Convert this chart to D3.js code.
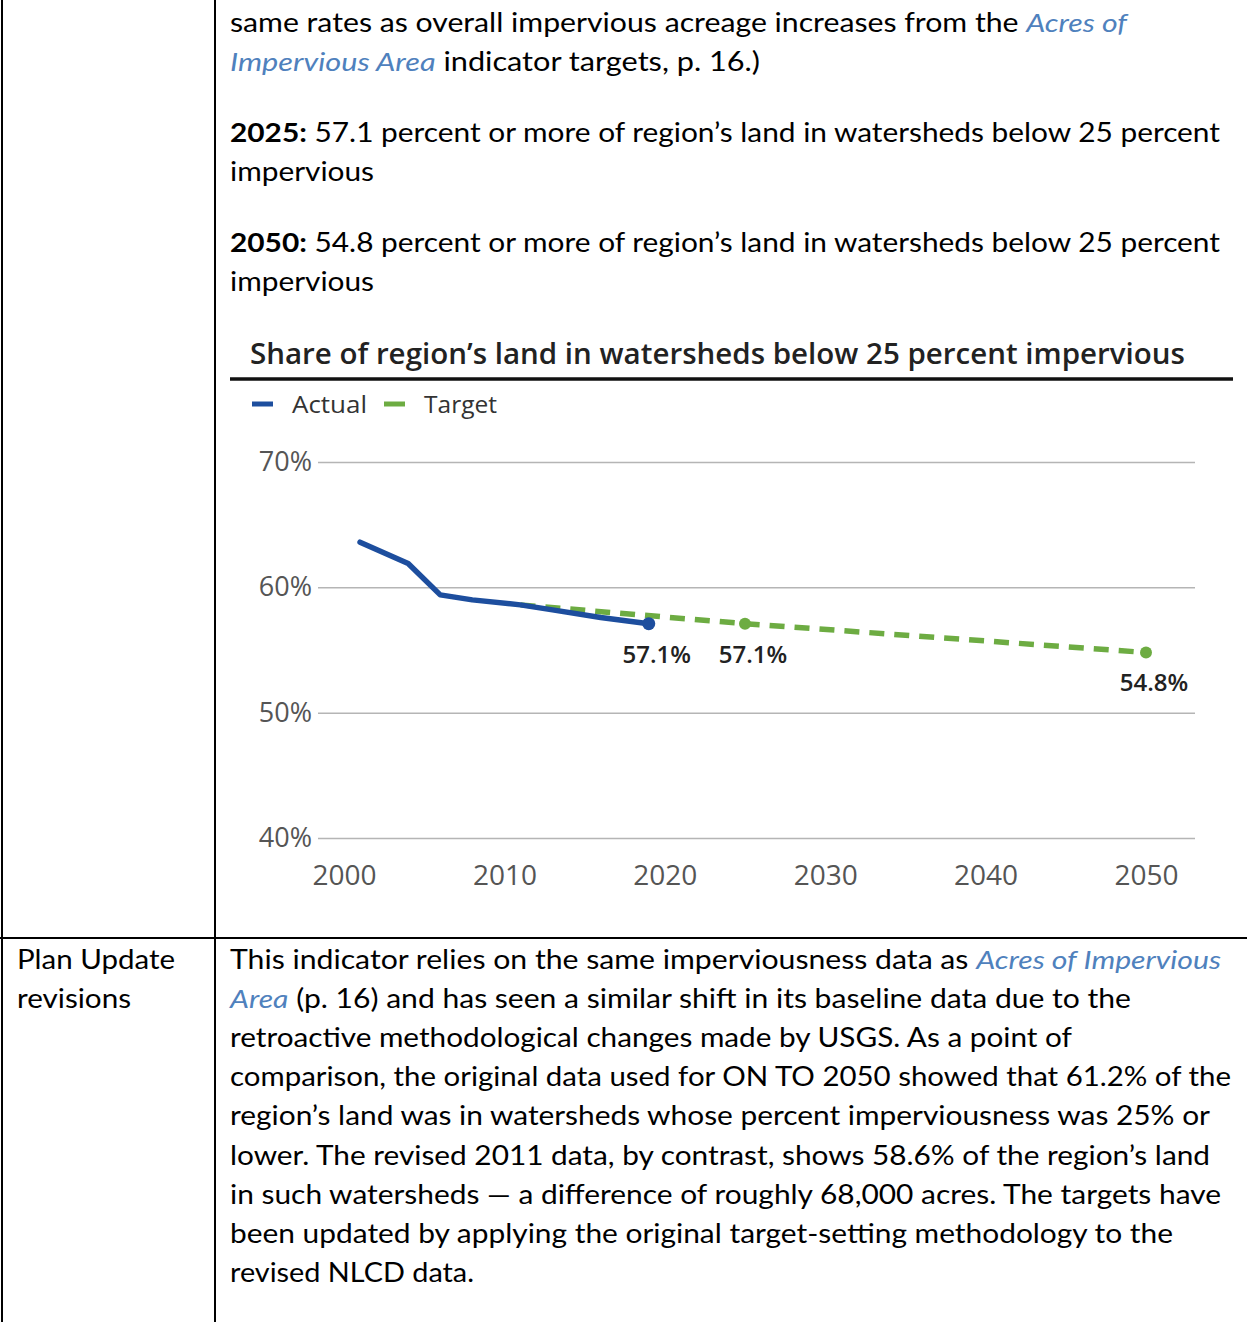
<!DOCTYPE html>
<html>
<head>
<meta charset="utf-8">
<script src="https://cdn.jsdelivr.net/npm/d3@7"></script>
<style>
  html, body { margin: 0; padding: 0; background: #fff; }
  svg { display: block; }
</style>
</head>
<body>
<svg id="page" width="1247" height="1322"></svg>
<script>
// ---------- DATA ----------
const actualYears  = [2001, 2004, 2006, 2008, 2011, 2013, 2016, 2019];
const actualValues = [63.6, 61.9, 59.4, 59.0, 58.6, 58.2, 57.6, 57.1];
const targetYears  = [2011, 2025, 2050];
const targetValues = [58.6, 57.1, 54.8];
const labelPoints  = [ // [year, value, label]
  [2019, 57.1, "57.1%"],
  [2025, 57.1, "57.1%"],
  [2050, 54.8, "54.8%"]
];
const yTicks = [40, 50, 60, 70];
const xTicks = [2000, 2010, 2020, 2030, 2040, 2050];
const seriesNames = ["Actual", "Target"];
const seriesColors = ["#1d4e9e", "#6dac42"];
const chartTitle = "Share of region\u2019s land in watersheds below 25 percent impervious";

// body text: segments [text, style] ; style n=normal, i=italic link, b=bold
const topLines = [
  {segs: [["same rates as overall impervious acreage increases from the ", "n"], ["Acres of", "i"]], w: 897, y: 31.5},
  {segs: [["Impervious Area", "i"], [" indicator targets, p. 16.)", "n"]], w: 530, y: 70.5},
  {segs: [["2025:", "b"], [" 57.1 percent or more of region\u2019s land in watersheds below 25 percent", "n"]], w: 990, y: 142},
  {segs: [["impervious", "n"]], w: 144, y: 181},
  {segs: [["2050:", "b"], [" 54.8 percent or more of region\u2019s land in watersheds below 25 percent", "n"]], w: 990, y: 252},
  {segs: [["impervious", "n"]], w: 144, y: 291}
];
const bottomLines = [
  {segs: [["This indicator relies on the same imperviousness data as ", "n"], ["Acres of Impervious", "i"]], w: 991},
  {segs: [["Area", "i"], [" (p. 16) and has seen a similar shift in its baseline data due to the", "n"]], w: 901},
  {segs: [["retroactive methodological changes made by USGS. As a point of", "n"]], w: 842},
  {segs: [["comparison, the original data used for ON TO 2050 showed that 61.2% of the", "n"]], w: 1001},
  {segs: [["region\u2019s land was in watersheds whose percent imperviousness was 25% or", "n"]], w: 980},
  {segs: [["lower. The revised 2011 data, by contrast, shows 58.6% of the region\u2019s land", "n"]], w: 980},
  {segs: [["in such watersheds \u2014 a difference of roughly 68,000 acres. The targets have", "n"]], w: 991},
  {segs: [["been updated by applying the original target-setting methodology to the", "n"]], w: 943},
  {segs: [["revised NLCD data.", "n"]], w: 244}
];
const leftLines = [
  {segs: [["Plan Update", "n"]], w: 158},
  {segs: [["revisions", "n"]], w: 114}
];

// ---------- PAGE ----------
const svg = d3.select("#page");
const BODY_FONT = "Lato, 'Open Sans', sans-serif";
const CHART_FONT = "'Open Sans', 'Noto Sans', sans-serif";

// table lines
svg.append("line").attr("x1", 2).attr("x2", 2).attr("y1", 0).attr("y2", 1322).attr("stroke", "#000").attr("stroke-width", 2);
svg.append("line").attr("x1", 215).attr("x2", 215).attr("y1", 0).attr("y2", 1322).attr("stroke", "#000").attr("stroke-width", 2);
svg.append("line").attr("x1", 0).attr("x2", 1247).attr("y1", 938).attr("y2", 938).attr("stroke", "#000").attr("stroke-width", 2);

function writeLine(x, y, line) {
  const t = svg.append("text")
    .attr("x", x).attr("y", y)
    .attr("font-family", BODY_FONT)
    .attr("font-size", 26)
    .attr("fill", "#000")
    .attr("textLength", line.w)
    .attr("lengthAdjust", "spacingAndGlyphs")
    .style("white-space", "pre");
  line.segs.forEach(([s, st]) => {
    const ts = t.append("tspan").text(s);
    if (st === "i") ts.attr("font-style", "italic").attr("fill", "#4f81bd");
    if (st === "b") ts.attr("font-weight", "bold");
  });
}
topLines.forEach(l => writeLine(230, l.y, l));
bottomLines.forEach((l, i) => writeLine(230, 969 + i * 39.1, l));
leftLines.forEach((l, i) => writeLine(17, 969 + i * 39.1, l));

// ---------- CHART ----------
const x = d3.scaleLinear().domain([2000, 2050]).range([344, 1146]);
const y = d3.scaleLinear().domain([40, 70]).range([838, 462]);

// title
svg.append("text")
  .attr("x", 250).attr("y", 364)
  .attr("font-family", CHART_FONT).attr("font-weight", 600).attr("font-size", 29)
  .attr("fill", "#222")
  .attr("textLength", 935).attr("lengthAdjust", "spacingAndGlyphs")
  .text(chartTitle);
svg.append("line").attr("x1", 230).attr("x2", 1233).attr("y1", 379).attr("y2", 379)
  .attr("stroke", "#111").attr("stroke-width", 3.5);

// legend
const legendX = [252, 384];
const legendTextX = [292, 424];
const legendW = [75, 73];
seriesNames.forEach((n, i) => {
  svg.append("line").attr("x1", legendX[i]).attr("x2", legendX[i] + 21)
    .attr("y1", 404).attr("y2", 404)
    .attr("stroke", seriesColors[i]).attr("stroke-width", 5);
  svg.append("text").attr("x", legendTextX[i]).attr("y", 413)
    .attr("font-family", CHART_FONT).attr("font-size", 24).attr("fill", "#333")
    .attr("textLength", legendW[i]).attr("lengthAdjust", "spacingAndGlyphs")
    .text(n);
});

// y axis + grid
const yAxis = svg.append("g").attr("transform", "translate(318,0)")
  .call(d3.axisLeft(y).tickValues(yTicks).tickFormat(d => d + "%").tickSize(-(1195 - 318)).tickPadding(6));
yAxis.select(".domain").remove();
yAxis.selectAll(".tick line").attr("stroke", "#b5b5b5").attr("stroke-width", 1.5);
yAxis.selectAll(".tick text").attr("font-family", CHART_FONT).attr("font-size", 27).attr("fill", "#555");

// x axis
const xAxis = svg.append("g").attr("transform", "translate(0,838)")
  .call(d3.axisBottom(x).tickValues(xTicks).tickFormat(d3.format("d")).tickSize(0).tickPadding(27));
xAxis.select(".domain").remove();
xAxis.selectAll(".tick text").attr("font-family", CHART_FONT).attr("font-size", 28).attr("fill", "#555");

// target line (drawn first, under actual)
const line = d3.line().x(d => x(d[0])).y(d => y(d[1]));
const targetData = targetYears.map((yr, i) => [yr, targetValues[i]]);
svg.append("path").datum(targetData).attr("d", line)
  .attr("fill", "none").attr("stroke", seriesColors[1]).attr("stroke-width", 5.5)
  .attr("stroke-dasharray", "15,10");
svg.selectAll(".tdot").data(targetData.slice(1)).enter().append("circle")
  .attr("cx", d => x(d[0])).attr("cy", d => y(d[1])).attr("r", 6)
  .attr("fill", seriesColors[1]);

// actual line
const actualData = actualYears.map((yr, i) => [yr, actualValues[i]]);
svg.append("path").datum(actualData).attr("d", line)
  .attr("fill", "none").attr("stroke", seriesColors[0]).attr("stroke-width", 5.5)
  .attr("stroke-linejoin", "round").attr("stroke-linecap", "round");
svg.append("circle").datum(actualData[actualData.length - 1])
  .attr("cx", d => x(d[0])).attr("cy", d => y(d[1])).attr("r", 6.5)
  .attr("fill", seriesColors[0]);

// value labels
const labelDy = [39, 39, 38];
const labelDx = [8, 8, 8];
svg.selectAll(".vlab").data(labelPoints).enter().append("text")
  .attr("x", (d, i) => x(d[0]) + labelDx[i])
  .attr("y", (d, i) => y(d[1]) + labelDy[i])
  .attr("text-anchor", "middle")
  .attr("font-family", CHART_FONT).attr("font-weight", 600).attr("font-size", 24)
  .attr("fill", "#222")
  .text(d => d[2]);
</script>
</body>
</html>
